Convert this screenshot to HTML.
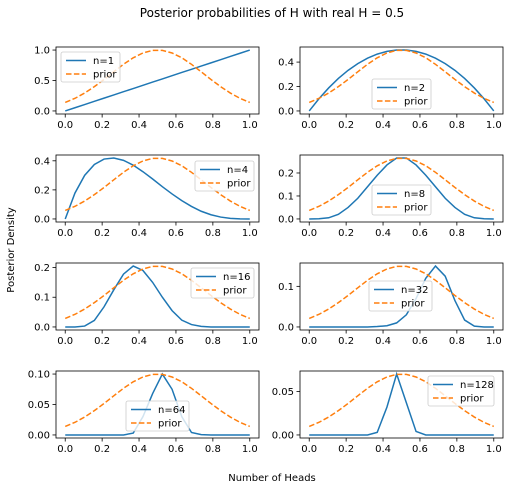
<!DOCTYPE html>
<html><head><meta charset="utf-8"><style>
body{margin:0;background:#fff}
svg{display:block;font-family:"DejaVu Sans","Liberation Sans",sans-serif}
</style></head><body>
<svg id="fig" width="513" height="490" viewBox="0 0 513 490">
<text x="272" y="17" font-size="12" text-anchor="middle">Posterior probabilities of H with real H = 0.5</text>
<text x="14" y="250" font-size="10" text-anchor="middle" transform="rotate(-90 14 250)">Posterior Density</text>
<text x="272" y="481" font-size="10" text-anchor="middle">Number of Heads</text>
</svg>
<script>
const xs = [0,0.0526,0.1053,0.1579,0.2105,0.2632,0.3158,0.3684,0.4211,0.4737,0.5263,0.5789,0.6316,0.6842,0.7368,0.7895,0.8421,0.8947,0.9474,1];
const priorShape = [0.140,0.207,0.294,0.399,0.517,0.643,0.766,0.873,0.952,0.995,0.995,0.952,0.873,0.766,0.643,0.517,0.399,0.294,0.207,0.140];
const labels = ["n=1","n=2","n=4","n=8","n=16","n=32","n=64","n=128"];
const post1 = [0,0.053,0.105,0.158,0.211,0.263,0.316,0.368,0.421,0.474,0.526,0.579,0.632,0.684,0.737,0.789,0.842,0.895,0.947,1];
const post2 = [0,0.0997,0.1884,0.2659,0.3324,0.3878,0.4321,0.4654,0.4875,0.4986,0.4986,0.4875,0.4654,0.4321,0.3878,0.3324,0.2659,0.1884,0.0997,0];
const post4 = [0,0.178,0.300,0.375,0.412,0.419,0.403,0.370,0.325,0.275,0.222,0.172,0.126,0.086,0.053,0.029,0.013,0.004,0.0006,0];
const post8 = [0,0.001,0.005,0.02,0.05,0.09,0.14,0.19,0.235,0.265,0.265,0.235,0.19,0.14,0.09,0.05,0.02,0.005,0.001,0];
const post16 = [0,0,0.003,0.022,0.068,0.125,0.178,0.205,0.19,0.15,0.10,0.055,0.023,0.008,0.002,0,0,0,0,0];
const post32 = [0,0,0,0,0,0,0,0.001,0.003,0.01,0.03,0.07,0.12,0.15,0.125,0.065,0.017,0.002,0,0];
const post64 = [0,0,0,0,0,0,0,0.003,0.03,0.068,0.10,0.075,0.03,0.004,0.0005,0,0,0,0,0];
const post128 = [0,0,0,0,0,0,0,0.003,0.032,0.07,0.037,0.004,0,0,0,0,0,0,0,0];
const yTicks = [["0.0","0.5","1.0"],["0.0","0.2","0.4"],["0.0","0.2","0.4"],["0.0","0.1","0.2"],["0.0","0.1","0.2"],["0.0","0.1"],["0.00","0.05","0.10"],["0.00","0.05"]];
const xTicks = ["0.0","0.2","0.4","0.6","0.8","1.0"];
const posts = [post1,post2,post4,post8,post16,post32,post64,post128];
const legendPos = [[61,52],[372,79],[195,161],[372,185],[191,268],[369,281],[126,401],[428,376]];

const NS="http://www.w3.org/2000/svg";
const svg=document.getElementById('fig');
function mk(tag,attrs,parent){const e=document.createElementNS(NS,tag);for(const k in attrs)e.setAttribute(k,attrs[k]);(parent||svg).appendChild(e);return e;}

posts.forEach((post,p)=>{
  const col=p%2,row=Math.floor(p/2);
  const L=col?300:56,W=203,T=47+row*108,H=67;
  const ymax=Math.max(...post);
  const y0=-0.05*ymax,y1=1.05*ymax;
  const sx=v=>L+W*(v+0.05)/1.1;
  const sy=v=>T+H*(y1-v)/(y1-y0);
  const g=mk('g',{});
  
  
  // ticks
  xTicks.forEach(t=>{const x=sx(parseFloat(t));
    mk('line',{x1:x,x2:x,y1:T+H,y2:T+H+3.5,stroke:'#000','stroke-width':0.8},g);
    const tx=mk('text',{x:x,y:T+H+14,'font-size':10,'text-anchor':'middle'},g);tx.textContent=t;
    
    });
  yTicks[p].forEach(t=>{const y=sy(parseFloat(t));
    mk('line',{x1:L-3.5,x2:L,y1:y,y2:y,stroke:'#000','stroke-width':0.8},g);
    const tx=mk('text',{x:L-6,y:y+3.5,'font-size':10,'text-anchor':'end'},g);tx.textContent=t;
    
    });
  const pl=mk('polyline',{points:xs.map((x,i)=>sx(x)+','+sy(post[i])).join(' '),fill:'none',stroke:'#1f77b4','stroke-width':1.5},g);
  
  
  const pr=mk('polyline',{points:xs.map((x,i)=>sx(x)+','+sy(priorShape[i]*ymax)).join(' '),fill:'none',stroke:'#ff7f0e','stroke-width':1.5,'stroke-dasharray':'5.5,2.4'},g);
  
  
  mk('rect',{x:L,y:T,width:W,height:H,fill:'none',stroke:'#000','stroke-width':0.8},g);
  // legend
  const [lx,ly]=legendPos[p];
  const lw=p>=4?(p===7?66:63):59;
  const lg=mk('g',{},g);
  
  
  mk('rect',{x:lx,y:ly,width:lw,height:30,rx:2,fill:'#fff','fill-opacity':0.8,stroke:'#ccc','stroke-width':0.8},lg);
  mk('line',{x1:lx+5,x2:lx+25,y1:ly+8.5,y2:ly+8.5,stroke:'#1f77b4','stroke-width':1.5},lg);
  mk('line',{x1:lx+5,x2:lx+25,y1:ly+22,y2:ly+22,stroke:'#ff7f0e','stroke-width':1.5,'stroke-dasharray':'5.5,2.4'},lg);
  const t1=mk('text',{x:lx+32,y:ly+12,'font-size':10},lg);t1.textContent=labels[p];
  
  
  const t2=mk('text',{x:lx+32,y:ly+25.5,'font-size':10},lg);t2.textContent='prior';
  
  
});
</script>
</body></html>
